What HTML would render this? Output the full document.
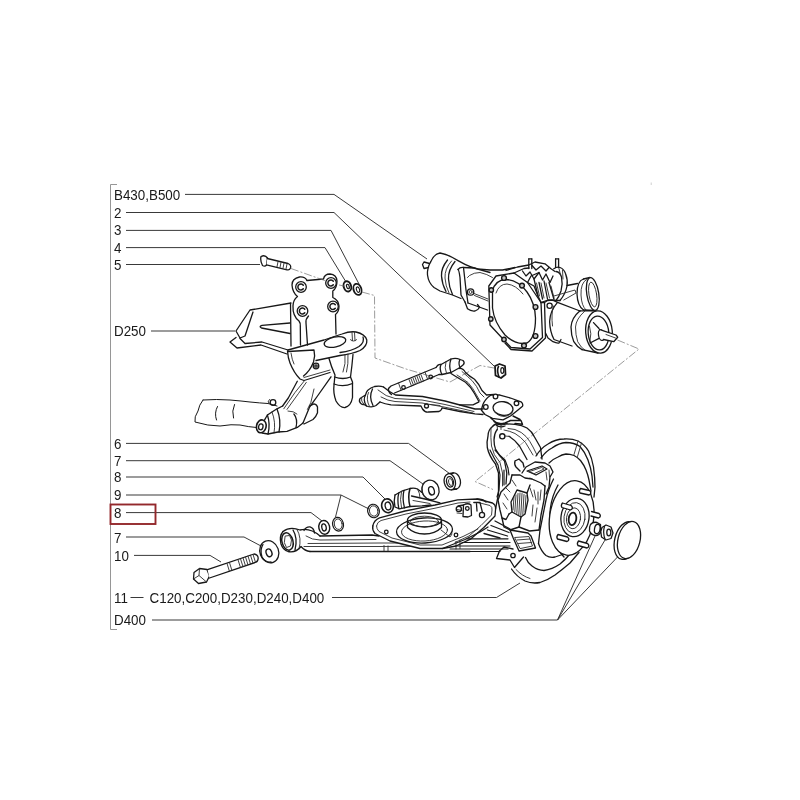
<!DOCTYPE html>
<html><head><meta charset="utf-8">
<style>
html,body{margin:0;padding:0;background:#fff;}
body{width:800px;height:800px;overflow:hidden;font-family:"Liberation Sans",sans-serif;}
svg{display:block}
text{font-family:"Liberation Sans",sans-serif;font-size:14.4px;fill:#1a1a1a;}
.ld{stroke:#2e2e2e;stroke-width:0.95;fill:none}
.dr{stroke:#181818;stroke-width:1.3;fill:none;stroke-linecap:round;stroke-linejoin:round}
.drw{stroke:#181818;stroke-width:1.3;fill:#fff;stroke-linecap:round;stroke-linejoin:round}
.th{stroke:#2a2a2a;stroke-width:0.9;fill:none;stroke-linecap:round;stroke-linejoin:round}
.ds{stroke:#707070;stroke-width:0.7;fill:none;stroke-dasharray:8 2 2 2}
</style></head><body>
<svg width="800" height="800" viewBox="0 0 800 800">
<rect width="800" height="800" fill="#fff"/>
<!-- BRACKET -->
<g id="bracket" class="ld" style="stroke:#8a8a8a;stroke-width:0.9">
<path d="M117 184.5H110.5V629.5H117"/>
</g>
<!-- LEADERS -->
<g id="leaders" class="ld">
<path d="M185 194.4H334L427 259"/>
<path d="M126 212.5H334L494 366"/>
<path d="M126 230.400H331L359 284"/>
<path d="M126 247.6H325L346 282"/>
<path d="M126 264.5H260"/>
<path d="M151 331H235"/>
<path d="M126 443.400H408.500L449.500 473.500"/>
<path d="M126 460.7H390L423 484"/>
<path d="M126 477H363L385 499"/>
<path d="M126 495H341L369 509M341 495L335.5 517"/>
<path d="M126 512.6H311L322 521"/>
<path d="M126 537H244L261 546"/>
<path d="M134 555.4H210L221 562"/>
<path d="M130.500 597.500H143.500"/>
<path d="M332 597.500H496.500L520 583"/>
<path d="M152 620H557.500L595 536M557.500 620L605 540M557.500 620L618 556.500"/>
</g>
<!-- LABELS -->
<g id="labels" style="filter:grayscale(1)"><g transform="scale(0.93 1)">
<text x="122.6" y="199.8">B430,B500</text>
<text x="122.6" y="217.8">2</text>
<text x="122.6" y="235.3">3</text>
<text x="122.6" y="252.8">4</text>
<text x="122.6" y="269.8">5</text>
<text x="122.6" y="336.3">D250</text>
<text x="122.6" y="448.8">6</text>
<text x="122.6" y="465.8">7</text>
<text x="122.6" y="482.3">8</text>
<text x="122.6" y="500.3">9</text>
<text x="122.6" y="517.8">8</text>
<text x="122.6" y="542.8">7</text>
<text x="122.6" y="560.8">10</text>
<text x="122.6" y="603.3">11</text>
<text x="160.8" y="603.3">C120,C200,D230,D240,D400</text>
<text x="122.6" y="624.8">D400</text>

</g>
</g>
<rect x="110.5" y="504.5" width="45" height="19.5" fill="none" stroke="#93282c" stroke-width="1.9"/>
<rect x="650.7" y="182.5" width="1" height="2.5" fill="#cfcfcf"/>
<!-- DRAWING -->
<!-- PART A: bolt 5, plate, washers, shield, cup -->
<g id="partA" class="dr">
<!-- bolt 5 -->
<path d="M261 256.5Q260 261 262.5 265.5Q265 267 266.5 265L267.5 258Q265 254.5 261 256.5Z" class="drw"/>
<path d="M267.3 258.5L288 263.5Q291.5 265 290.5 268Q289.5 270.5 287 269.8L266.5 264.8" class="drw"/>
<path d="M278 261.8l-1 5M281 262.5l-1 5M284 263.2l-1 5M287 264l-1 5" class="th"/>
<!-- plate outline -->
<path d="M307 280.5L323.5 279Q324.5 274 330 274Q336.500 274.5 337 281Q337 288 332.800 291L332.800 297.5Q338.500 300 339 306Q339 312 335.500 314.500L336 334" />
<path d="M307 280.5Q305 276.500 299.500 277Q292 278.500 292 285Q292.500 292.500 297.500 296.500Q293 300 293 306Q292.500 316 299 321Q300.500 323 300.300 326L300.500 345"/>
<path d="M290.500 303.500L291 346"/>
<path d="M308.500 316Q305.500 319 306 323L307.500 345"/>
<!-- holes -->
<g fill="#fff">
<circle cx="301" cy="287" r="5.300"/><circle cx="331" cy="283" r="5.300"/><circle cx="302.500" cy="311" r="5.300"/><circle cx="333" cy="306.500" r="5.300"/>
</g>
<g stroke-width="1.500">
<path d="M303.300 285.200A3 3 0 1 0 303.300 288.800"/><path d="M333.300 281.200A3 3 0 1 0 333.300 284.800"/><path d="M304.800 309.200A3 3 0 1 0 304.800 312.800"/><path d="M335.300 304.700A3 3 0 1 0 335.300 308.300"/>
</g>
<!-- washers 4,3 -->
<ellipse cx="347.400" cy="286.400" rx="3.700" ry="5.200" stroke-width="1.900" transform="rotate(-18 347.400 286.400)"/>
<ellipse cx="347.900" cy="286.500" rx="1.300" ry="2.300" stroke-width="1.200" transform="rotate(-18 347.900 286.500)"/>
<ellipse cx="357.500" cy="289.400" rx="3.900" ry="5.700" stroke-width="1.800" transform="rotate(-18 357.500 289.400)"/>
<ellipse cx="358" cy="289.600" rx="1.500" ry="2.800" stroke-width="1.100" transform="rotate(-18 358 289.600)"/>
<!-- shield -->
<path d="M291 303L250 310L236 331L240 338L245 336L253 312"/>
<path d="M236 337.500L230 342L237 348L261 345L287 354"/>
<path d="M240 338.500L245 343.500L262 342L288 350"/>
<path d="M290 323L262 325.300Q258.500 326.500 261.500 328L290 333.500"/>
<!-- cup top plate -->
<path d="M288 350L324 340Q334 336.500 342 334Q350 331 356 332Q365 334 366.800 340Q367.500 346 360 350.500Q352 354 340 355.500L316 360.500" />
<path d="M363 337Q365 342 359 346.500Q352 351 340 352.500"/>
<ellipse cx="335" cy="342" rx="11" ry="5" transform="rotate(-12 335 342)"/>
<path d="M352 332.500l0.500 8M354.500 332.500l0.500 8M350.500 339.500a3 1.500 0 1 0 6 0" class="th"/>
<!-- cup box -->
<path d="M287.500 351Q288 358 290 363Q294 373 300 379L304 380.500L330 372.500"/>
<path d="M288 351.500L314 350Q315.500 356 313.500 362Q310 371 303.500 376"/>
<path d="M291 353Q292 360 294 364" class="th"/>
<path d="M304 377.500L330 370" class="th"/>
<circle cx="316" cy="366" r="2.800"/><circle cx="316" cy="366" r="1.200"/>
<!-- neck + bump stop -->
<path d="M329 358.500Q331 366 335 375L334 385Q333 393 336 401Q340 408 345 407.500Q351 406 352.500 397.500L352.500 382L350.500 377Q352 366 353 354.500"/>
<path d="M334.500 377Q343 380 350.500 377M334 384Q343 387.500 352.500 383.500"/>
<path d="M345 354.500Q346 364 343 372M348 354Q348.500 364 346.500 372" class="th"/>
</g>


<!-- PART B: arm + tube -->
<g id="partB" class="dr">
<path d="M203 400Q199 405 198 411Q194 417 195 422Q208 426 220 426Q232 424 240 425Q249 427 256.500 427.500" stroke-width="1"/>
<path d="M203 400Q217 399 230 400Q242 401 250 402Q260 403 268 403.500L277 406" stroke-width="1"/>
<path d="M217.500 406.500Q214 413 216.500 420M234.500 404.500Q231.500 411 233.500 418" stroke-width="1"/>
<circle cx="273" cy="402.500" r="2.800"/><path d="M270 403.500l-2 -1.500l1.500 -2.500" class="th"/>
<!-- bushing -->
<ellipse cx="261.300" cy="426.300" rx="4.800" ry="6.500" transform="rotate(12 261.300 426.300)" stroke-width="1.600"/>
<ellipse cx="260.800" cy="426.800" rx="2.200" ry="3" transform="rotate(12 260.800 426.800)"/>
<path d="M264.600 419.800L267.400 415L277 408.800L282.600 406"/>
<path d="M262 433L268 434L278 432L287 431.300L297.300 427.400L303 423"/>
<path d="M267.400 415Q270.500 424 268 434" />
<path d="M272 412Q276 422 274 433" class="th"/>
<path d="M277 409Q281.500 420 279 432" />
<path d="M293.900 414Q298 419 296 427.500" />
<!-- arm -->
<path d="M282.600 406L288.300 398L297.300 381.300"/>
<path d="M283.800 408.800L295 392.500L304 381.300" class="th"/>
<path d="M287 409.400L298.400 393.600L306.300 382.400" class="th"/>
<path d="M331 376.800L317.500 396L309.600 407L303 423"/>
<path d="M314 389L310.800 402.600L307.400 409.400" class="th"/>
<path d="M309.600 406L314 403.800Q317 404.500 317.500 407L317.500 412.800Q316 417 313 419.500L304 424"/>
<path d="M288 411Q294 411 297 414" class="th"/>
</g>

<!-- PART C: axle -->
<g id="partC" class="dr">
<!-- left boot -->
<path d="M424 262L429.500 263.500M422.500 264.500L424 268.500L428.500 267.500M422.500 264.500L424 262"/>
<path d="M430.600 262Q434 254 440 253Q447 254.500 452.500 257.500L458 260.600L465 264.400Q471 267.500 477.500 268.800L490 270L502.500 270L515 267.500"/>
<path d="M430.600 262Q427 268 427.500 275Q428.500 283 434 287.500L440 291L452.500 295L461 298.500"/>
<path d="M447.500 260Q441 268 441.500 276Q442 284 446 291.500"/>
<path d="M451.500 261Q444.500 269 445 278Q445.500 286 449 293" class="th"/>
<path d="M455 261.500Q448 270 448.500 279Q449 287 452.500 294.500" />
<!-- flange -->
<path d="M458 269.500Q459 270 460 277.500L461 295L465 302"/>
<path d="M458 269.500Q460 267 463.500 267.500L466 290L468 303"/>
<path d="M465 302L467.500 308.800Q471 311.500 475 311Q479 309.500 479.400 307L477.500 304.500"/>
<path d="M463.500 267.500L474 268L490 272.500"/>
<path d="M468 303L487.500 310"/>
<path d="M467.500 277.500L469.500 275.500Q474 272.500 480 272.500Q487 274 492.500 277.500" class="th"/>
<circle cx="470.600" cy="292" r="3.200"/><circle cx="470.600" cy="292" r="1.500" class="th"/>
<path d="M474 293.500L488 299M474.500 295.500L488 301" class="th"/>
<!-- cover -->
<path d="M488.800 286L496 276L514 273L527.500 282.500L541 302.500L542.500 337.500L530 349L511 347.500L490 325Z" class="drw"/>
<path d="M541 302.500L544.500 302.500L545.500 338L532 351L511 349.500L505 343" />
<path d="M492.500 291Q495 280 506 279.500Q518 280 527 292Q535 303 535.500 318Q535.500 338 527 343Q516 345.500 505 335Q494 322 492.500 308Z"/>
<path d="M496 293Q499 284 507 284Q516 285 523 294" class="th"/>
<g fill="#c4c4c4" stroke-width="1.400">
<circle cx="504" cy="278" r="2.400"/><circle cx="522" cy="285.600" r="2.400"/><circle cx="535.500" cy="307" r="2.400"/><circle cx="535.500" cy="336" r="2.400"/><circle cx="524" cy="345.600" r="2.400"/><circle cx="491.300" cy="290" r="2.200"/><circle cx="490.800" cy="319" r="2.200"/><circle cx="504" cy="339.500" r="2.200"/>
</g>
<!-- top casting -->
<path d="M506 270.500L517.500 267L528.800 265L535 262L545 263.800L551 268.800L555 271.500"/>
<path d="M514 273L524 268.500L529 268M527.500 282.500L531 276L539 272.500"/>
<path d="M528.800 258.800L528.800 268.500M531.800 258.800L531.800 268.500M555.600 258.800L555.600 267.500M558.600 258.800L558.600 267.500" stroke-width="1.300"/>
<path d="M528.800 258.800L531.800 258.800M555.600 258.800L558.600 258.800"/>
<path d="M522.500 271L526 276L530 272L534 279L539 272.500L542.500 280L546 274L550 282.500L553 276" stroke-width="1.300"/>
<path d="M532 265.500L536 270L541 266L546 271L549 267.500" />
<path d="M539 282.500L542.500 299M544 281L547.500 299M549 282.500L554 299.500M534 279L538 296" stroke-width="1.300"/>
<path d="M541 283l3 15M546 283l3.500 15M551 286l3 12M536.500 283l3 13" class="th"/>
<path d="M527.500 282.500L534 286L538 296L541 302.500"/>
<path d="M553.800 268.800Q557 266.500 560 267.500Q564 269 565.500 273.500Q568 280 567 286Q565.500 294 560 300.500"/>
<path d="M556 271.500Q560 272 561.500 277Q563 284 561 291Q559 297 556 300.500" />
<path d="M559 268.500L560.500 275M562.500 270L563 279" class="th"/>
<path d="M541 302.500L548 300L556 300.500L560 300.500"/>
<!-- right flange + tube -->
<path d="M544.500 302.500L547.500 300.500L552.500 300L557.500 302.400L580 311"/>
<path d="M557.500 302.400Q550 311 549.600 321.500Q550 332 554 339.500L572 346"/>
<path d="M545.500 333L548 338L553 341.700Q557 343.500 559 343L561 339.500"/>
<circle cx="549.600" cy="305.700" r="2.600" fill="#fff"/>
<path d="M553.500 306Q551 314 552.500 326" class="th"/>
<!-- right boot band + rims -->
<path d="M580 310.800Q571.500 318 571 327Q571 335 573.800 341.700Q577 347 582 349.600"/>
<path d="M584.500 311.400Q576 319 575.500 327Q575.500 335 577.700 341.700Q581 348 585.600 350.700" class="th"/>
<path d="M580 310.800L596 310.800M582 349.600L598 353"/>
<ellipse cx="599" cy="332" rx="13.300" ry="21.200" transform="rotate(-5 599 332)" class="drw"/>
<ellipse cx="598.500" cy="333" rx="10.300" ry="17" transform="rotate(-5 598.500 333)"/>
<path d="M593.500 322.600L599 328.500M590 343L599 338.400" />
<path d="M589.500 326Q592 334 590 341" class="th"/>
<ellipse cx="601.400" cy="335" rx="2.900" ry="5.500" transform="rotate(-10 601.400 335)" class="drw"/>
<path d="M599.500 329.500L603.600 330.800L616 335L617.700 337.200L613.700 341.700L603.600 339.500" class="drw"/>
<path d="M606 334.500L615.500 338" class="th"/>
<!-- back pulley -->
<path d="M567 285.500L577.500 283.500"/>
<path d="M583.500 279Q577 281 577 294Q577.500 306 583.500 310"/>
<path d="M586.500 279.500Q580.500 283 581 295Q581.500 306 586 310" class="th"/>
<path d="M583.500 279L590 277.500M583.500 310L595.500 310.500"/>
<ellipse cx="592.800" cy="294" rx="6" ry="16.600" transform="rotate(-9 592.800 294)" class="drw"/>
<ellipse cx="592.800" cy="294.500" rx="3.800" ry="12.500" transform="rotate(-9 592.800 294.500)" class="th"/>
<path d="M554 296L575 290L576 293L563.800 300" class="th"/>
</g>

<!-- PART D: upper arm, nut 2, dashed -->
<g id="dashA" class="ds">
<path d="M291 268.500L326 281M339 285L344 286M362 292L374.500 295.500L375 358L406 369L450 382L480 365.500L494 368"/>
<path d="M617.500 340L639 349L475 481.500L493 489.500"/>
</g>
<g id="partD" class="dr">
<!-- left bushing -->
<path d="M359.500 401.500Q359 398.500 361.500 397.500L365.500 395Q366.500 389 374.500 386.500Q380 385.500 383.500 387"/>
<path d="M359.500 401.500Q361 405 364 404.500L366.500 406Q372 408 376 405.500L380 402"/>
<path d="M365.500 395Q362.500 400 366.500 406" />
<path d="M368.500 392.500Q365.500 399 369.500 406.500" class="th"/>
<path d="M372.500 389Q368.500 397 373 405.500" />
<path d="M361.500 397.500Q360.500 401 364 404.500" class="th"/>
<!-- lower branch -->
<path d="M383.500 387Q390 392.500 395.500 395L422.500 396.500L445 401L475 409L483 409"/>
<path d="M380 402Q385 404 391 404.800L421 406L422.500 409Q425 412.500 428.500 412L439 411.500Q442 410 442 407.800L460 411.500L475 413.800L483 414.500"/>
<path d="M378 390Q386 397 395 398.500L422 400L445 404.500L474 411.500" class="th"/>
<path d="M381 397Q388 401 395 401.500L422 403L444 407L473 413" class="th"/>
<circle cx="426.500" cy="406" r="2"/><path d="M430 404.500L440 405.500" class="th"/>
<!-- cross rod -->
<path d="M388.500 388.500L391 386L436 367.500M394.500 393L439 374.500"/>
<path d="M388.500 388.500Q388 392 391.500 394.500" />
<path d="M409 379.500l2.500 6.500M411 378.700l2.500 6.500M413 377.900l2.500 6.500M415 377.100l2.500 6.500M417 376.300l2.500 6.500M419 375.500l2.500 6.500M421 374.700l2.500 6.500" class="th"/>
<circle cx="403.500" cy="387.500" r="1.800"/><circle cx="430.700" cy="377" r="1.800"/>
<path d="M398.500 383L401 390M425 372L427.500 379" class="th"/>
<!-- top bushing -->
<path d="M436 367.500Q438 364 441 364.500L451 359Q456 357.500 460 359.500L463 360.500Q465 362.500 463.500 364.500L460 367.500L451 372.500L442 374.500L439 374.500"/>
<path d="M441 364.500Q439 369 442 374.500M451 359Q448.500 366 451 372.500M460 359.500Q458 363 460 367.500" />
<path d="M446 361.500Q444 368 446.500 373.500" class="th"/>
<!-- right branch -->
<path d="M459 368.500Q463 368 465.500 372.500Q469 376 474.500 379.300Q479 384 482 390.500L486.500 395L494 394.300"/>
<path d="M451 373.500Q458 378 465.500 382.300Q471 387 474.500 393.500L479 401.800L473 404.800L459.500 404.800"/>
<path d="M462 371.500Q468 377 472 380.500Q477 386 480 393L484 397" class="th"/>
<path d="M457 375Q463 379 468 382.500Q473 388 476.500 395L480 401" class="th"/>
<!-- ball joint plate -->
<path d="M491 395L500 395L510.500 398L521 401.800Q523.500 404 522.500 406.300L518 410L510.500 416L503 419.800L492.500 418.300L485 414.500L481.300 410L482.800 404.800Q485 399 491 395Z"/>
<ellipse cx="503" cy="408.500" rx="10" ry="6.800" transform="rotate(8 503 408.500)"/>
<path d="M493.500 410.500Q497 416 504 416.500Q510 416 512.500 411.500" class="th"/>
<circle cx="495.500" cy="396.500" r="2.300" fill="#fff"/><circle cx="516.500" cy="403.300" r="2.300" fill="#fff"/><circle cx="485.800" cy="407" r="2.300" fill="#fff"/>
<path d="M491 418.300L496 422.500Q500 424.500 505 423L510.500 420.500L521 420.500L522.500 424.300L515 423.500M513 416L520 419.500" stroke-width="1.400"/>
<path d="M494 421.500Q500 427 507 423.500M496 425Q500 428 505 426" />
<!-- nut 2 -->
<path d="M495 366L499.500 364L505 366L505.500 374.500L501 378L495.500 375.500Z" stroke-width="1.800"/>
<path d="M498.500 366.500Q496.500 370 499 377" stroke-width="1.600"/>
<ellipse cx="502.300" cy="370.500" rx="1.500" ry="2.800" stroke-width="1.200"/>
</g>

<!-- PART E: lower arm, washers, bolt 10 -->
<g id="partE" class="dr">
<!-- bolt 10 -->
<path d="M194 572.500L199.500 568.500L207 569.500L209.500 576L206.500 582L198.500 583.500L193.500 579Z" class="drw"/>
<path d="M199.500 568.500L199 575.500L193.500 579M199 575.500L206.500 582" class="th"/>
<path d="M207.500 569.700L254 554Q257.800 554.500 258.200 558Q258 561.500 256 562.200L209.500 578" class="drw"/>
<path d="M227 563.400l2.400 7.800M229.500 562.600l2.400 7.800" class="th"/>
<path d="M238 559.700l2.400 7.600M240.500 558.800l2.400 7.600M243 557.900l2.400 7.600M245.500 557l2.400 7.600M248 556.100l2.400 7.600M250.500 555.200l2.400 7.600M253 554.400l2.400 7.600" class="th"/>
<!-- washer 7 lower -->
<ellipse cx="269.300" cy="551.800" rx="9.300" ry="11.300" transform="rotate(-20 269.300 551.800)" class="drw" stroke-width="1.400"/>
<path d="M263 544.500Q259.500 550 262 557Q265 562.500 271 562" />
<ellipse cx="269" cy="552.800" rx="2.800" ry="4" transform="rotate(-20 269 552.800)" stroke-width="1.400"/>
<!-- left bushing eye -->
<path d="M283 531.500Q290 526 300 530Q310 527.500 320 536"/>
<path d="M283 531.500Q279 536 281 544Q283 550 288 551.500Q296 553 301 546.500Q305 551 310 551.500"/>
<ellipse cx="287.500" cy="541.500" rx="5.500" ry="8.800" transform="rotate(-15 287.500 541.500)" stroke-width="1.500"/>
<path d="M285.500 536L289.500 535.500L291.500 540L290.500 546L286.500 547.500L284.500 543Z" class="th"/>
<path d="M293 530Q298 538 295 550" />
<path d="M297 529.500Q302 538 299 549" class="th"/>
<path d="M304 530.500Q306 526.500 310 526.800Q314 528 314.500 533" />
<!-- arm beams -->
<path d="M320 536L372 535L379 536M310 551.500L380 551.500L440 551.500L470 551.500"/>
<path d="M306 536Q312 540 320 540L376 539.500M304 546.500L380 546.500L440 546" class="th"/>
<path d="M308 543.500L380 543L440 543" class="th"/>
<!-- washers A B C D -->
<ellipse cx="324.200" cy="527.500" rx="5.400" ry="6.900" transform="rotate(-12 323.600 527.200)" stroke-width="1.400"/>
<ellipse cx="324" cy="527.400" rx="2.200" ry="3.600" transform="rotate(-12 324 527.400)"/>
<ellipse cx="338" cy="524.300" rx="5.400" ry="6.900" transform="rotate(-12 337.500 524)" stroke-width="1.200"/>
<ellipse cx="338.200" cy="524.300" rx="3.900" ry="5.300" transform="rotate(-12 337.700 524)" class="th"/>
<ellipse cx="373.500" cy="511" rx="5.800" ry="6.800" transform="rotate(-12 373.500 511)" stroke-width="1.200"/>
<ellipse cx="373.700" cy="511" rx="4.200" ry="5.200" transform="rotate(-12 373.700 511)" class="th"/>
<ellipse cx="387.500" cy="505.800" rx="5.800" ry="7" transform="rotate(-12 387.500 505.800)" stroke-width="1.600"/>
<ellipse cx="388" cy="506" rx="2.800" ry="4" transform="rotate(-12 388 506)"/>
<!-- washer E + nut 6 -->
<ellipse cx="430.500" cy="490" rx="8.500" ry="10" transform="rotate(-15 430.500 490)" class="drw" stroke-width="1.300"/>
<path d="M424 482.500Q420 488 423 495Q426.500 500 432 499.500" class="th"/>
<ellipse cx="431.500" cy="490.800" rx="2.800" ry="4.200" transform="rotate(-15 431.500 490.800)"/>
<ellipse cx="454.800" cy="481" rx="5.600" ry="8.200" transform="rotate(-12 454.800 481)" class="drw" stroke-width="1.400"/>
<path d="M448.300 473.800L453.300 473M451.500 489.700L456.500 489" stroke-width="1.400"/>
<ellipse cx="449.800" cy="481.800" rx="5.600" ry="8.200" transform="rotate(-12 449.800 481.800)" class="drw" stroke-width="1.400"/>
<ellipse cx="450" cy="481.800" rx="3.400" ry="5.300" transform="rotate(-12 450 481.800)" stroke-width="1.300"/>
<ellipse cx="450.600" cy="482" rx="2" ry="3.500" transform="rotate(-12 450.600 482)" class="th"/>
<!-- rear bushing -->
<path d="M395 495L402.500 490.800L410 488.500Q414 487.500 417.500 489L422 492.500"/>
<path d="M395 495Q393.500 501 395 507L399.500 508.800L410 506.500L422 505.800L431 505"/>
<path d="M398.800 492.800Q397 500 398.800 508.500M404 490.300Q402 498 404.500 507.800" />
<path d="M410 488.500Q407.500 497 410 506.500" stroke-width="1.500"/>
<path d="M401.500 491.500Q399.500 499 401.500 508" class="th"/>
<path d="M411.500 496L425 499L440 502.800" />
<path d="M413 500.500L430 503.500" class="th"/>
<path d="M417.500 489Q420 493 420 498" class="th"/>
<!-- spring seat plate -->
<path d="M372.800 526L374 520L379.500 517.800L405 511L435 505L457.500 499.800L477 499L481 500L492.500 503L495.600 508.800L495 516L483.800 527.500L471 538.800L456 546L442.500 548.500L420 548.500L390 541L375 533.500Z" fill="#fff" stroke="none"/>
<path d="M372.800 526Q374 520 379.500 517.800L405 511L435 505L457.500 499.800L477 499Q483 499 486 502" />
<path d="M372.800 526Q372 530 375 533.500L390 541L420 548.500L442.500 548.500L465 539.500L480 532L488 527"/>
<path d="M376.500 526Q377 522 381 520.500L406 514L436 508L458 503L470 502" class="th"/>
<path d="M376.500 526Q376.500 529 379 531.500L392 538L420 545L442 545L463 536.500L478 529" class="th"/>
<ellipse cx="424.500" cy="530.500" rx="28" ry="12.500" transform="rotate(-3 424.500 530.500)"/>
<ellipse cx="424.500" cy="531" rx="23" ry="10" transform="rotate(-3 424.500 531)" class="th"/>
<ellipse cx="424.500" cy="520" rx="17" ry="7"/>
<ellipse cx="424.500" cy="521.500" rx="14" ry="5.300" class="th"/>
<path d="M407.500 520L407.500 527.500Q414 534 424.500 534Q435 534 441.500 527.500L441.500 520"/>
<path d="M441 530L450 537L452 534" class="th"/>
<circle cx="386.300" cy="532" r="1.800"/><circle cx="456" cy="535" r="1.800"/>
<!-- right bracket -->
<path d="M458 506L463.500 505Q468 502.500 471 505L471.500 515.500L468 517L463 516.500M463.500 505L463 516.500"/>
<circle cx="467.300" cy="508.500" r="1.800"/>
<path d="M457 509.500L462 510.500M457 513L462 513.500" class="th"/>
<path d="M384 545.500L384 551M388 546L388 551M456 541.500L456 549M460 540L460 548.500" class="th"/>
</g>

<!-- PART F: knuckle, caliper, disc, hub, cap -->
<g id="partF" class="dr">
<!-- stud from ball joint -->
<path d="M497 423.500L497.500 430M501 424L501 429.500" class="th"/>
<!-- knuckle goose neck -->
<path d="M492.500 426.500Q488 430 488 436Q486.500 442 487.300 447.500Q489 456 495.500 464L498.500 473L498.500 494L495.500 509"/>
<path d="M497 429.500Q494 434 494 440Q494 445 495.500 449Q499 456 504.500 461L506.800 473L506 484"/>
<path d="M491 428Q490.500 438 491.500 446Q493 455 500 462.500L502.500 473L502.500 486" class="th"/>
<path d="M492.500 426.500Q495 423.500 498.500 423.500L515 424.300Q522 425 527 428Q532 431.500 534.500 437L540.500 447.500L542 459"/>
<path d="M509 436.300Q515 440 519.500 446L527 459.500"/>
<path d="M504 430Q510 431 515 433.500Q521 437 525.500 442.500L533 455" class="th"/>
<path d="M508 428.500L515 429.500Q522 432 526 436.500Q530 441 533 447L537 455" class="th"/>
<circle cx="502.300" cy="436.300" r="2.600" stroke-width="1.400"/><path d="M505 436L510 436.500" class="th"/>
<!-- caliper -->
<g stroke-width="1.350">
<path d="M515 461L519 459L523 463L524 467M515 461Q514 464.500 516 467L520 471"/>
<path d="M522 473L526 467L535 462L545 463L550 466L553 472L550 477L549 487L546 494"/>
<path d="M512 475L520 475L525 478L532 479L541 483L545 486"/>
<path d="M512 475L510 483L501 492L498 500L500 510L502 518L506 519.500L509 514"/>
<path d="M517 490L527 493L528 500L525 514L521 517L512 512L511 502Z"/>
<path d="M527 493L530 485M545 486L544 500L541 515L539 530"/>
<path d="M509 514L512 512M521 517L519 527L510 530"/>
<path d="M502 518L504 527L510 530L528 533L531 536L535.500 548L519 551L513 537.500L510 530"/>
<path d="M519 527L529.500 531L539 530"/>
</g>
<path d="M527 471L542 466L547 469L536 475Z"/>
<path d="M529.500 471.500L541.500 467.500L544 469L534.500 473.500Z" class="th"/>
<path d="M514 497l-1 13M516 495l-1.200 17M518 493.500l-1.200 20M520 493l-1.200 22M522 493.500l-1.200 22M524 494.500l-1.200 20M526 495.500l-1 16" class="th"/>
<path d="M506 488L510 492M504 494L508 500M503 503L507 509M512 480L516 486M530 488L533 497M534 490L536 500M538 492L538 504M541 490L540 500M533 505L532 516M537 508L535 522M546 472L547 480M549 470L549.500 477M530 478L534 480" class="th"/>
<path d="M515 537.500L529 536.500L532.500 546L520.500 548.500Z" class="th"/>
<path d="M517 540L530 539M518.500 543.500L531.500 542.500" class="th"/>
<path d="M499.500 551L496.500 558.500L510 560L514.500 567.500L523.500 557"/>
<path d="M499.500 551L504 547L513 549"/>
<circle cx="513" cy="555.500" r="2.200"/>
<!-- brake hose -->
<path d="M490 450Q494 458 498 465L500 475L499 490L497 497M495 450Q500 456 505 460L508 468L509 475M504 470L504 485" stroke-width="1.200"/>
<!-- disc arcs top -->
<path d="M536 456Q541 448 548 444Q556 439 564 439Q572 438.500 578 441Q585 445 588.500 451Q592 458 593.500 467Q595 478 595 487L594 497"/>
<path d="M541 458Q546 451 552 448Q559 443 566 442.500Q574 442.500 580 446.500Q585 452 588 460Q591 468 592 476L593 487"/>
<path d="M549 463Q553 459 558 457Q562 454.500 566 454Q570 454 574 455.500Q578 457.500 580.500 460.500Q584 465 586 470Q588 475 589 480L591 491"/>
<path d="M578 441L574 454.500M581.500 443L577.500 456.500" class="th"/>
<!-- disc left edge -->
<path d="M553.500 479Q548 490 546 500L543 515L540 530L538.500 543.500"/>
<path d="M558 485Q552 496 550.500 507.500Q549 519 550.500 530Q552 540 556.500 548L564 557" />
<!-- disc arcs bottom -->
<path d="M511.500 569Q517 577 525 581Q532 584 540 582.500Q548 580 555 575Q563 569 570 563L579 552.500"/>
<path d="M525.500 557.500Q527.500 562.500 532 566Q538 570.500 544 570.500Q552 569.500 560 564Q566 559 570 554" />
<path d="M538.500 543.500Q541 551 546 555.500Q550 558 555 557L564 554" />
<path d="M516 569.500Q522 576 530 578.500" class="th"/>
<!-- hub hat -->
<ellipse cx="571.600" cy="518" rx="22" ry="37.500" transform="rotate(8 571.600 518)" class="drw"/>
<ellipse cx="575" cy="517.500" rx="14" ry="19.300" transform="rotate(8 575 517.500)"/>
<ellipse cx="574.500" cy="517.800" rx="10.500" ry="15.300" transform="rotate(8 574.500 517.800)" class="th"/>
<ellipse cx="573.500" cy="518.300" rx="7" ry="10.500" transform="rotate(8 573.500 518.300)" class="th"/>
<ellipse cx="572.500" cy="518.800" rx="3.800" ry="6.300" transform="rotate(8 572.500 518.800)" stroke-width="1.800"/>
<!-- studs -->
<g class="drw" stroke-width="1.200">
<path d="M580.500 488.500L589.500 490.500Q591.500 492 590.500 494L589 495L580 493Q578.500 491 580.500 488.500Z"/>
<path d="M562.500 503L571 505.500Q573 507 572 509L570.500 510L562 507.500Q560.500 505.500 562.500 503Z"/>
<path d="M591.500 511.500L599 513.500Q601 515 600 517L598.500 518L591 516"/>
<path d="M558 534.500L567.500 537Q569.500 538.500 568.500 540.500L567 541.500L557.500 539Q556 537 558 534.500Z"/>
<path d="M578.500 541L587.500 543.500Q589.500 545 588.500 547L587 548L578 545.500Q576.500 543.500 578.500 541Z"/>
</g>
<!-- collar + nut -->
<path d="M590.500 524.500Q593 521.500 597 522.500L600.500 524.500L600.500 532.500Q599 535.500 596 535.500Q591 535 589.500 531Q589 527 590.500 524.500Z" class="drw" stroke-width="1.200"/>
<ellipse cx="597.300" cy="529" rx="2.800" ry="4.800" transform="rotate(10 597.300 529)"/>
<path d="M602 527.500L606 525L611 527L613 533L611 538.500L606 540L601.500 537L600.800 531.500Z" class="drw" stroke-width="1.600"/>
<path d="M604.500 526.500Q602.500 532 605 539" stroke-width="1.200"/>
<ellipse cx="608.800" cy="532.500" rx="2" ry="3.300" stroke-width="1.300"/>
<!-- cap -->
<ellipse cx="626" cy="540.500" rx="11.300" ry="19.300" transform="rotate(14 626 540.500)" class="drw"/>
<ellipse cx="629" cy="540" rx="11" ry="19" transform="rotate(14 629 540)" class="drw"/>
<!-- seat plate right end + struts -->
<path d="M477 499L481 500L492.500 503Q496 505 495.600 508.800L495 516L483.800 527.500L471 538.800L456 546L442.500 548.500" stroke-width="1.300"/>
<path d="M478 502.500L490 505.500Q492.500 507 492 510L491.500 515L481 525.500L469 536L455 542.500" class="th"/>
<path d="M473.800 502.500L480 502.500L482.500 512.500M476.500 504L477 511"/>
<circle cx="482" cy="515" r="2.600" stroke-width="1.300"/><circle cx="458.800" cy="509" r="2.600"/>
<path d="M487.500 530L507.500 536M495 521L510 529M491 525.500L509 532.500M484 533.500L500 538" />
<path d="M467 538.800L508 538.800M462 542.500L510 542.500M456 546L510 546M450 549L508 549M470 551.500L500 551.500" stroke-width="1.200"/>
</g>
</svg>
</body></html>
